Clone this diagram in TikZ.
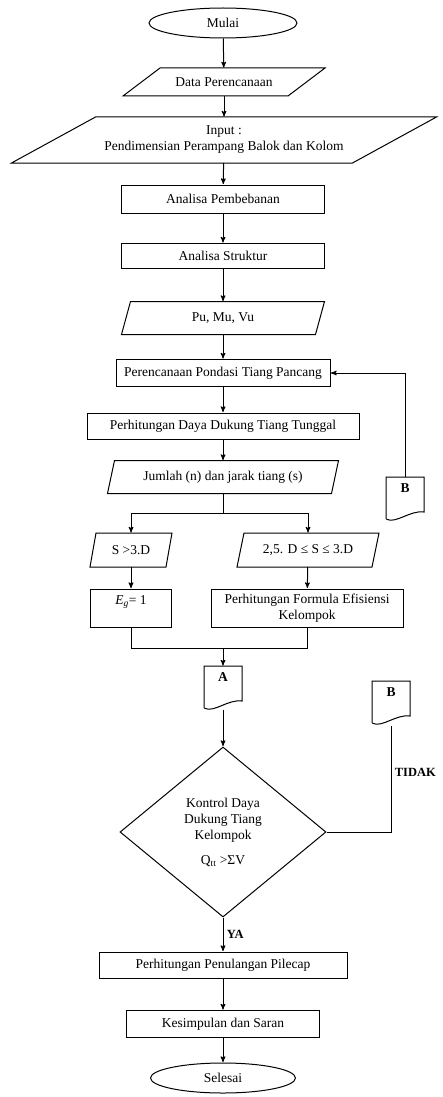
\documentclass[tikz,border=0pt]{standalone}
\usepackage{fontspec}
\setmainfont{Liberation Serif}
\usetikzlibrary{arrows,shapes.geometric}

\begin{document}
\begin{tikzpicture}[x=1pt,y=-1pt,>=stealth',shorten >=0.5pt,line width=1pt,
  font=\fontsize{13.5}{16}\selectfont,
  proc node/.style={rectangle,draw,minimum height=27pt,inner sep=2pt,align=center},
  io node/.style={rectangle,inner sep=2pt,align=center},
  term node/.style={ellipse,draw,minimum width=148pt,minimum height=30pt,inner sep=1pt},
  page node/.style={minimum width=37pt,minimum height=43pt,inner sep=0pt,
    text height=9pt,text depth=22pt,font=\fontsize{13.5}{16}\selectfont\bfseries},
  cond node/.style={diamond,draw,minimum width=206pt,minimum height=170pt,
    inner sep=0pt,align=center},
  label node/.style={font=\fontsize{12.5}{14}\selectfont\bfseries}]

  \useasboundingbox (0,0) rectangle (442,1097);

  % main column
  \node[term node] (mulai) at (223,23) {Mulai};
  \node[io node,minimum width=164pt,minimum height=27pt] (data) at (224,82) {Data Perencanaan};
  \node[io node,minimum width=340pt,minimum height=45pt] (input) at (224,140)
    {Input :\\Pendimensian Perampang Balok dan Kolom};
  \node[proc node,minimum width=203pt,minimum height=28pt] (beban) at (223,199) {Analisa Pembebanan};
  \node[proc node,minimum width=203pt,minimum height=25pt] (struktur) at (223,256) {Analisa Struktur};
  \node[io node,minimum width=193pt,minimum height=32pt] (gaya) at (223,318) {Pu, Mu, Vu};
  \node[proc node,minimum width=214pt] (pondasi) at (223,373) {Perencanaan Pondasi Tiang Pancang};
  \node[proc node,minimum width=272pt,minimum height=26pt] (tunggal) at (223,426)
    {Perhitungan Daya Dukung Tiang Tunggal};
  \node[io node,minimum width=223pt,minimum height=32pt] (jumlah) at (223,477)
    {Jumlah (n) dan jarak tiang (s)};

  % two cases
  \node[io node,minimum width=75pt,minimum height=33pt] (sbesar) at (131,550) {S >3.D};
  \node[io node,minimum width=134pt,minimum height=33pt] (santara) at (308,550) {2,5. D ≤ S ≤ 3.D};
  \node[proc node,minimum width=81pt,minimum height=38pt] (eg) at (131,608)
    {\textit{E}\textsubscript{\textit{g}}= 1\\\mbox{}};
  \node[proc node,minimum width=192pt,minimum height=38pt] (formula) at (307,608)
    {Perhitungan Formula Efisiensi\\Kelompok};

  \coordinate (bagi) at (223,513);
  \coordinate (gabung) at (223,648);

  % connectors
  \node[page node] (pa) at (223,688) {A};
  \node[page node] (pb) at (405,499) {B};
  \node[page node] (pc) at (391,703) {B};

  \node[cond node] (kontrol) at (223,832)
    {Kontrol Daya\\Dukung Tiang\\Kelompok\\[9pt]Q\textsubscript{tt} >ΣV};
  \node[proc node,minimum width=248pt,minimum height=26pt] (pilecap) at (223,965)
    {Perhitungan Penulangan Pilecap};
  \node[proc node,minimum width=193pt] (simpul) at (223,1024) {Kesimpulan dan Saran};
  \node[term node,minimum width=145pt] (selesai) at (223,1078) {Selesai};

  % slanted outlines of the data boxes
  \foreach \n/\s in {data/37,input/84,gaya/9,jumlah/7,sbesar/6,santara/7}
    \draw ([shift={(-\s/2,0)}]\n.south west) -- ([shift={(-\s/2,0)}]\n.south east)
      -- ([shift={(\s/2,0)}]\n.north east) -- ([shift={(\s/2,0)}]\n.north west) -- cycle;

  \foreach \p in {pa,pb,pc}
    \draw ([yshift=2pt]\p.south west) -- (\p.north west) -- (\p.north east)
      -- ([yshift=9pt]\p.south east)
      .. controls ([xshift=-14pt,yshift=11pt]\p.south east) and ([xshift=10pt,yshift=-3pt]\p.south west)
      .. ([yshift=2pt]\p.south west);

  \path[->]
  (mulai) edge (data)
  (data) edge (input)
  (input) edge (beban)
  (beban) edge (struktur)
  (struktur) edge (gaya)
  (gaya) edge (pondasi)
  (pondasi) edge (tunggal)
  (tunggal) edge (jumlah)
  (sbesar) edge (eg)
  (santara) edge (formula)
  (gabung) edge (pa)
  (pa.south) edge (kontrol)
  (pilecap) edge (simpul)
  (simpul) edge (selesai);

  \draw (jumlah) -- (bagi);
  \draw[->] (bagi) -| (sbesar);
  \draw[->] (bagi) -| (santara);
  \draw (eg) |- (gabung);
  \draw (formula) |- (gabung);

  \draw[->] (pb.north) |- (pondasi.east);
  \draw (kontrol.east) -| (pc.south) node[label node,pos=0.78,right] {TIDAK};
  \draw[->] (kontrol) -- (pilecap) node[label node,midway,right] {YA};
\end{tikzpicture}
\end{document}
